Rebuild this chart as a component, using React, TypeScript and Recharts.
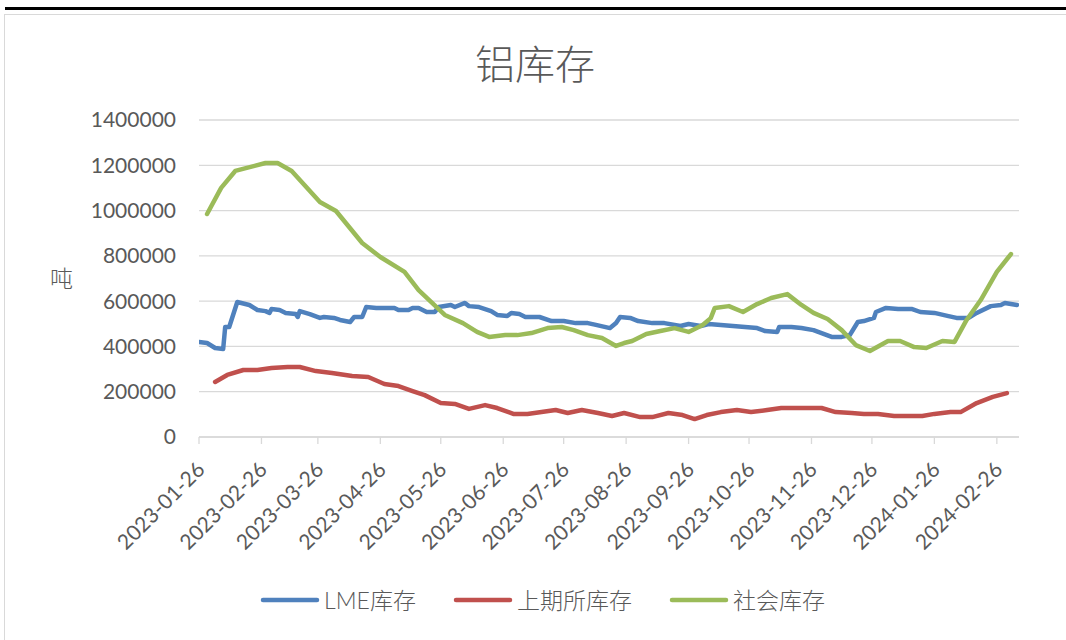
import React from 'react';
import { LineChart, Line, XAxis, YAxis, CartesianGrid, Legend } from 'recharts';

const lmeDates = [
  '2023-01-26', '2023-01-30', '2023-02-03', '2023-02-07', '2023-02-08', '2023-02-10', '2023-02-14', '2023-02-20',
  '2023-02-24', '2023-02-28', '2023-03-02', '2023-03-03', '2023-03-07', '2023-03-10', '2023-03-15', '2023-03-16',
  '2023-03-17', '2023-03-22', '2023-03-27', '2023-03-29', '2023-04-03', '2023-04-06', '2023-04-11', '2023-04-13',
  '2023-04-17', '2023-04-19', '2023-04-24', '2023-05-03', '2023-05-05', '2023-05-10', '2023-05-12', '2023-05-15',
  '2023-05-19', '2023-05-23', '2023-05-25', '2023-05-31', '2023-06-02', '2023-06-07', '2023-06-09', '2023-06-14',
  '2023-06-20', '2023-06-23', '2023-06-28', '2023-06-30', '2023-07-04', '2023-07-07', '2023-07-14', '2023-07-20',
  '2023-07-26', '2023-08-01', '2023-08-07', '2023-08-11', '2023-08-18', '2023-08-21', '2023-08-23', '2023-08-28',
  '2023-09-01', '2023-09-08', '2023-09-14', '2023-09-22', '2023-09-26', '2023-10-02', '2023-10-06', '2023-10-12',
  '2023-10-18', '2023-10-24', '2023-10-30', '2023-11-03', '2023-11-09', '2023-11-10', '2023-11-16', '2023-11-21',
  '2023-11-27', '2023-12-01', '2023-12-06', '2023-12-11', '2023-12-15', '2023-12-19', '2023-12-22', '2023-12-27',
  '2023-12-28', '2024-01-02', '2024-01-08', '2024-01-15', '2024-01-19', '2024-01-26', '2024-02-02', '2024-02-06',
  '2024-02-12', '2024-02-16', '2024-02-23', '2024-02-28', '2024-03-01', '2024-03-07',
];
const lmeValues = [
  420000, 415000, 393000, 389000, 486000, 486000, 596000, 583000,
  561000, 556000, 548000, 565000, 561000, 548000, 543000, 530000,
  556000, 543000, 526000, 530000, 526000, 517000, 508000, 530000,
  530000, 574000, 570000, 570000, 561000, 561000, 570000, 570000,
  552000, 552000, 574000, 583000, 574000, 592000, 578000, 574000,
  556000, 539000, 534000, 548000, 543000, 530000, 530000, 512000,
  512000, 503000, 503000, 495000, 481000, 503000, 530000, 526000,
  512000, 503000, 503000, 490000, 499000, 490000, 499000, 495000,
  490000, 486000, 481000, 468000, 464000, 486000, 486000, 481000,
  472000, 459000, 442000, 442000, 450000, 508000, 512000, 526000,
  552000, 570000, 565000, 565000, 552000, 548000, 534000, 526000,
  526000, 548000, 578000, 583000, 592000, 583000,
];

const shfeDates = [
  '2023-02-03', '2023-02-09', '2023-02-17', '2023-02-24', '2023-03-03', '2023-03-11', '2023-03-17', '2023-03-25',
  '2023-04-02', '2023-04-12', '2023-04-20', '2023-04-28', '2023-05-05', '2023-05-12', '2023-05-18', '2023-05-26',
  '2023-06-02', '2023-06-09', '2023-06-17', '2023-06-23', '2023-07-01', '2023-07-08', '2023-07-15', '2023-07-22',
  '2023-07-28', '2023-08-04', '2023-08-12', '2023-08-19', '2023-08-25', '2023-09-02', '2023-09-08', '2023-09-16',
  '2023-09-23', '2023-09-29', '2023-10-05', '2023-10-12', '2023-10-20', '2023-10-27', '2023-11-04', '2023-11-11',
  '2023-11-18', '2023-11-24', '2023-12-01', '2023-12-08', '2023-12-16', '2023-12-22', '2023-12-29', '2024-01-06',
  '2024-01-13', '2024-01-20', '2024-01-26', '2024-02-03', '2024-02-08', '2024-02-16', '2024-02-24', '2024-03-02',
];
const shfeValues = [
  243000, 274000, 296000, 296000, 305000, 309000, 309000, 291000,
  283000, 269000, 265000, 234000, 225000, 203000, 185000, 150000,
  146000, 124000, 141000, 128000, 102000, 102000, 110000, 119000,
  106000, 119000, 106000, 93000, 106000, 88000, 88000, 106000,
  97000, 79000, 97000, 110000, 119000, 110000, 119000, 128000,
  128000, 128000, 128000, 110000, 106000, 102000, 102000, 93000,
  93000, 93000, 102000, 110000, 110000, 150000, 177000, 194000,
];

const socialDates = [
  '2023-01-30', '2023-02-06', '2023-02-13', '2023-02-28', '2023-03-06', '2023-03-13', '2023-03-27', '2023-04-04',
  '2023-04-17', '2023-04-26', '2023-05-08', '2023-05-15', '2023-05-28', '2023-06-06', '2023-06-13', '2023-06-19',
  '2023-06-27', '2023-07-03', '2023-07-10', '2023-07-18', '2023-07-25', '2023-07-31', '2023-08-07', '2023-08-14',
  '2023-08-21', '2023-08-25', '2023-08-29', '2023-09-05', '2023-09-12', '2023-09-19', '2023-09-26', '2023-10-03',
  '2023-10-07', '2023-10-09', '2023-10-16', '2023-10-23', '2023-10-30', '2023-11-06', '2023-11-14', '2023-11-21',
  '2023-11-27', '2023-12-04', '2023-12-11', '2023-12-18', '2023-12-25', '2024-01-03', '2024-01-09', '2024-01-16',
  '2024-01-22', '2024-01-30', '2024-02-05', '2024-02-11', '2024-02-18', '2024-02-26', '2024-03-04',
];
const socialValues = [
  985000, 1100000, 1175000, 1210000, 1210000, 1175000, 1038000, 998000,
  857000, 795000, 729000, 649000, 539000, 503000, 464000, 442000,
  450000, 450000, 459000, 481000, 486000, 472000, 450000, 437000,
  402000, 415000, 424000, 455000, 468000, 481000, 464000, 495000,
  525000, 570000, 578000, 552000, 587000, 614000, 631000, 583000,
  548000, 521000, 472000, 406000, 380000, 424000, 424000, 397000,
  393000, 424000, 420000, 517000, 605000, 729000, 808000,
];

const tickDates = [
  '2023-01-26', '2023-02-26', '2023-03-26', '2023-04-26', '2023-05-26', '2023-06-26', '2023-07-26',
  '2023-08-26', '2023-09-26', '2023-10-26', '2023-11-26', '2023-12-26', '2024-01-26', '2024-02-26',
];
const yTicks = [0, 200000, 400000, 600000, 800000, 1000000, 1200000, 1400000];

const seriesNames = ['LME库存', '上期所库存', '社会库存'];
const seriesColors = ['#4f81bd', '#c0504d', '#9bbb59'];

const ts = (d: string) => Date.parse(d);
const toRows = (dates: string[], values: number[]) => dates.map((d, i) => ({ t: ts(d), v: values[i] }));

const lmeRows = toRows(lmeDates, lmeValues);
const shfeRows = toRows(shfeDates, shfeValues);
const socialRows = toRows(socialDates, socialValues);

const FONT = 'Lato, "Noto Sans CJK SC", sans-serif';
const CJK = '"Noto Sans CJK SC", sans-serif';
const TEXT = '#595959';
const GRID = '#d9d9d9';

function DateTick(props: any) {
  const { x, y, payload } = props;
  const label = new Date(payload.value).toISOString().slice(0, 10);
  const ax = x + 7;
  const ay = y + 25;
  return (
    <text
      x={ax}
      y={ay}
      transform={`rotate(-45, ${ax}, ${ay})`}
      textAnchor="end"
      fill={TEXT}
      fontSize={21}
      fontFamily={FONT}
    >
      {label}
    </text>
  );
}

function LegendRow() {
  return (
    <div
      style={{
        display: 'flex',
        justifyContent: 'center',
        alignItems: 'center',
        gap: 37,
        width: 1085,
        height: 30,
      }}
    >
      {seriesNames.map((name, i) => (
        <div key={name} style={{ display: 'flex', alignItems: 'center' }}>
          <svg width={60} height={10} style={{ marginRight: 4 }}>
            <line x1={3} y1={5} x2={57} y2={5} stroke={seriesColors[i]} strokeWidth={4.5} strokeLinecap="round" />
          </svg>
          <span style={{ fontFamily: FONT, fontSize: 23, color: TEXT, fontWeight: 300, lineHeight: '30px' }}>{name}</span>
        </div>
      ))}
    </div>
  );
}

export default function App() {
  return (
    <div style={{ position: 'absolute', left: 0, top: 0, width: 1066, height: 640, background: '#fff', overflow: 'hidden' }}>
      <div style={{ position: 'absolute', left: 5, top: 7, width: 1070, height: 3, background: '#000' }} />
      <div
        style={{
          position: 'absolute',
          left: 4,
          top: 14,
          width: 1100,
          height: 700,
          border: `1px solid ${GRID}`,
        }}
      />
      <div
        style={{
          position: 'absolute',
          left: 335,
          width: 400,
          top: 34,
          textAlign: 'center',
          fontFamily: CJK,
          fontSize: 40,
          fontWeight: 300,
          color: TEXT,
          lineHeight: '56px',
        }}
      >
        铝库存
      </div>
      <div style={{ position: 'absolute', left: 0, top: 0 }}>
        <LineChart width={1066} height={640} margin={{ top: 120, right: 47, bottom: 0, left: 0 }}>
          <CartesianGrid vertical={false} stroke={GRID} strokeWidth={1.3} />
          <XAxis
            type="number"
            dataKey="t"
            domain={[ts('2023-01-26'), ts('2024-03-08')]}
            ticks={tickDates.map(ts)}
            interval={0}
            allowDataOverflow
            height={203}
            tickSize={7}
            stroke={GRID}
            tickLine={{ stroke: GRID, strokeWidth: 1.3 }}
            axisLine={{ stroke: GRID, strokeWidth: 1.3 }}
            tick={<DateTick />}
          />
          <YAxis
            type="number"
            domain={[0, 1400000]}
            ticks={yTicks}
            interval={0}
            width={199}
            axisLine={false}
            tickLine={false}
            tickSize={0}
            tickMargin={23}
            tick={{ fill: TEXT, fontSize: 21, fontFamily: FONT }}
            label={{
              value: '吨',
              position: 'insideLeft',
              offset: 50,
              fill: TEXT,
              fontSize: 23,
              fontFamily: CJK,
              fontWeight: 300,
            }}
          />
          <Legend
            layout="horizontal"
            verticalAlign="middle"
            wrapperStyle={{ left: 0, top: 585, width: 1085 }}
            content={() => <LegendRow />}
          />
          <Line
            data={lmeRows}
            dataKey="v"
            name={seriesNames[0]}
            type="linear"
            stroke={seriesColors[0]}
            strokeWidth={4.5}
            strokeLinejoin="round"
            strokeLinecap="round"
            dot={false}
            isAnimationActive={false}
          />
          <Line
            data={shfeRows}
            dataKey="v"
            name={seriesNames[1]}
            type="linear"
            stroke={seriesColors[1]}
            strokeWidth={4.5}
            strokeLinejoin="round"
            strokeLinecap="round"
            dot={false}
            isAnimationActive={false}
          />
          <Line
            data={socialRows}
            dataKey="v"
            name={seriesNames[2]}
            type="linear"
            stroke={seriesColors[2]}
            strokeWidth={4.5}
            strokeLinejoin="round"
            strokeLinecap="round"
            dot={false}
            isAnimationActive={false}
          />
        </LineChart>
      </div>
    </div>
  );
}
